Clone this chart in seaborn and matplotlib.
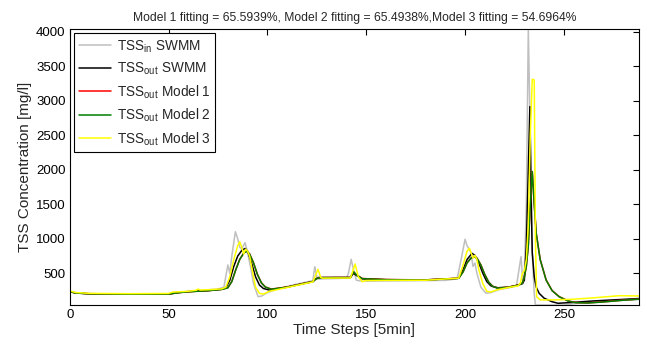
import numpy as np
import pandas as pd
import matplotlib
matplotlib.use("Agg")
import matplotlib.pyplot as plt
import seaborn as sns

# ---- data ----
t_in = [0, 3, 8, 20, 40, 50, 52, 55, 60, 65, 70, 75, 78, 80, 81, 82, 83.8, 85, 86, 87, 88.7, 90, 91.6,
        93, 95.3, 97, 100, 105, 110, 115, 120, 123, 124, 125, 126, 128, 135, 140, 141, 142.4, 143.5,
        145, 148, 160, 170, 180, 190, 196, 198, 200, 201, 203, 204, 205, 206, 208, 210.6, 213, 217,
        222, 226, 228.3, 229.3, 230, 231, 232, 233, 234, 235, 235.6, 250, 255, 265, 275, 288]
tss_in = [235, 218, 205, 200, 198, 200, 218, 225, 238, 248, 262, 272, 300, 621, 500, 750, 1103, 1000, 880, 850, 944, 800, 573,
          350, 161, 170, 220, 270, 310, 345, 375, 395, 596, 450, 415, 420, 425, 430, 500, 703, 560,
          400, 385, 390, 392, 395, 398, 420, 700, 993, 900, 800, 600, 650, 500, 300, 211, 220, 262,
          290, 315, 741, 350, 500, 1500, 4030, 2500, 800, 200, 41, 41, 60, 90, 110, 124]

t_out = [0, 3, 10, 30, 50, 55, 60, 70, 77, 79, 81, 83, 85, 87, 88.7, 90, 92, 94, 96, 98, 101, 110,
         118, 123, 124.5, 126, 128, 135, 142, 143.6, 145, 148, 160, 180, 196.8, 199, 201, 203.5, 205,
         207, 209, 211, 213, 216, 222, 227, 229, 230, 231, 232, 232.8, 233.5, 234, 235, 236, 237.5,
         240, 244, 247, 255, 265, 275, 288]
tss_out = [234, 215, 205, 200, 200, 222, 235, 250, 270, 290, 400, 600, 750, 830, 860, 820, 650, 450, 330, 280, 258, 300,
           350, 380, 420, 440, 440, 440, 440, 500, 470, 420, 408, 405, 428, 550, 700, 790, 760,
           650, 500, 380, 320, 290, 300, 330, 350, 400, 900, 2000, 2915, 1500, 800, 450, 300, 210,
           140, 89, 66, 80, 100, 115, 135]

t_m = [0, 3, 10, 30, 50, 55, 60, 70, 77, 80, 82, 84, 86, 88, 89.5, 91, 93, 95, 97, 99, 102, 110,
       118, 123, 124.5, 126, 128, 135, 142, 143.6, 145, 148, 160, 180, 196.8, 199, 201, 203, 204.7,
       206, 208, 210, 212, 214, 217, 222, 227, 229, 230, 231, 232, 233, 234, 235, 236, 238, 241,
       244, 247.6, 252, 256, 262, 270, 280, 288]
tss_m1 = [236, 216, 204, 199, 200, 220, 234, 249, 268, 292, 382, 552, 702, 792, 822, 782, 652, 482, 362, 302, 272, 302,
          352, 382, 418, 436, 438, 440, 440, 522, 480, 425, 410, 405, 430, 522, 652, 722, 743,
          722, 622, 482, 372, 312, 287, 300, 332, 362, 452, 602, 902, 1502, 1975, 1502, 1082, 702, 405,
          252, 163, 102, 77, 72, 87, 112, 127]
tss_m2 = [235, 215, 203, 198, 199, 219, 233, 248, 267, 290, 380, 550, 700, 790, 820, 780, 650, 480, 360, 300, 270, 300,
          350, 380, 416, 434, 436, 438, 438, 524, 478, 423, 408, 403, 428, 520, 650, 720, 741,
          720, 620, 480, 370, 310, 285, 298, 330, 360, 450, 600, 900, 1500, 1973, 1500, 1080, 700, 403,
          250, 161, 100, 75, 70, 85, 110, 125]

t_m3 = [0, 3, 10, 30, 50, 52, 55, 60, 64, 65, 66, 70, 77, 79, 81, 83, 85, 86, 87, 88, 89, 90, 91,
        92, 93, 94, 96, 98, 101, 110, 118, 123, 125.6, 127, 128, 135, 142, 144.4, 146, 148, 150, 160,
        180, 196.8, 199, 201, 202.2, 203, 204, 205, 206, 207, 209, 211, 213, 216, 222, 227, 228, 229,
        230, 231, 232, 233, 234, 235, 235.6, 236.2, 238, 245, 255, 265, 278, 288]
tss_m3 = [245, 222, 210, 205, 208, 228, 232, 240, 255, 272, 258, 262, 275, 300, 450, 700, 900, 958, 880, 780, 850, 820, 750,
          600, 450, 300, 210, 200, 240, 295, 345, 375, 558, 440, 430, 432, 432, 635, 450, 379, 395, 398,
          400, 430, 620, 820, 863, 800, 720, 760, 700, 550, 350, 240, 230, 260, 295, 320, 360, 500,
          540, 700, 1200, 2500, 3312, 3300, 1000, 161, 115, 115, 125, 145, 176, 172]

title = "Model 1 fitting = 65.5939%, Model 2 fitting = 65.4938%,Model 3 fitting = 54.6964%"

series = [
    (t_in, tss_in, "TSS$_{in}$ SWMM", "#bfbfbf"),
    (t_out, tss_out, "TSS$_{out}$ SWMM", "#000000"),
    (t_m, tss_m1, "TSS$_{out}$ Model 1", "#ff0000"),
    (t_m, tss_m2, "TSS$_{out}$ Model 2", "#007f00"),
    (t_m3, tss_m3, "TSS$_{out}$ Model 3", "#ffff00"),
]

sns.set_theme(style="white")
plt.rcParams["font.family"] = ["Liberation Sans", "DejaVu Sans"]
plt.rcParams["mathtext.default"] = "regular"

fig = plt.figure(figsize=(6.49, 3.47), dpi=100)
ax = fig.add_axes([0.1074, 0.121, 0.8772, 0.7946])

for t, v, lab, col in series:
    df = pd.DataFrame({"t": t, "v": v})
    sns.lineplot(data=df, x="t", y="v", color=col, linewidth=1.1, label=lab, ax=ax,
                 estimator=None, sort=False, solid_joinstyle="round")

ax.set_xlim(0, 288)
ax.set_ylim(41, 4035)
ax.set_xticks([0, 50, 100, 150, 200, 250])
ax.set_yticks([500, 1000, 1500, 2000, 2500, 3000, 3500, 4000])
ax.tick_params(direction="in", top=True, right=True, length=4, width=0.8,
               labelsize=9.5, colors="black", pad=3)
for s in ax.spines.values():
    s.set_color("black")
    s.set_linewidth(0.8)

ax.set_xlabel("Time Steps [5min]", fontsize=11, labelpad=1)
ax.set_ylabel("TSS Concentration [mg/l]", fontsize=11, labelpad=3)
ax.set_title(title, fontsize=8.7, pad=6)

leg = ax.legend(loc="upper left", fontsize=9.8, frameon=True, fancybox=False,
                edgecolor="black", handlelength=2.4, borderaxespad=0.3,
                labelspacing=0.45, handletextpad=0.4, borderpad=0.35)
leg.get_frame().set_linewidth(0.8)
leg.get_frame().set_alpha(1)

fig.savefig("out.png", dpi=100)
